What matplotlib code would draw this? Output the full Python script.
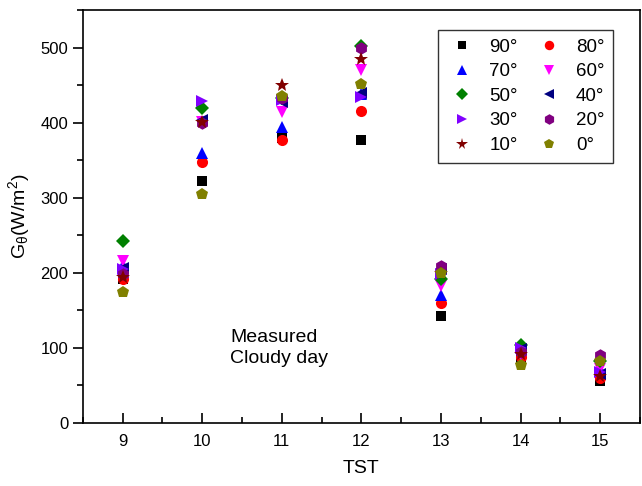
import matplotlib
matplotlib.use("Agg")
import matplotlib.pyplot as plt
from matplotlib.ticker import MultipleLocator

plt.rcParams['font.family'] = ['Liberation Sans', 'DejaVu Sans']
plt.rcParams['mathtext.default'] = 'regular'

# solar time (hours)
tst = [9, 10, 11, 12, 13, 14, 15]

# measured irradiance per tilt angle, W/m2
g90 = [192, 323, 379, 377, 143, 85, 56]
g80 = [192, 348, 377, 416, 160, 88, 60]
g70 = [210, 360, 394, 438, 170, 102, 70]
g60 = [216, 401, 414, 470, 183, 90, 72]
g50 = [243, 420, 433, 502, 192, 104, 82]
g40 = [207, 404, 427, 440, 205, 98, 65]
g30 = [205, 429, 430, 434, 198, 100, 68]
g20 = [198, 400, 433, 500, 209, 95, 90]
g10 = [194, 401, 450, 485, 200, 92, 62]
g0 = [175, 305, 436, 452, 200, 77, 83]

labels = ['90°', '80°', '70°', '60°', '50°', '40°', '30°', '20°', '10°', '0°']
series = [g90, g80, g70, g60, g50, g40, g30, g20, g10, g0]
markers = ['s', 'o', '^', 'v', 'D', '<', '>', 'h', '*', 'p']
colors = ['black', 'red', 'blue', 'magenta', '#008000', '#000080',
          '#8000ff', '#800080', '#800000', '#808000']
sizes = [7, 8, 9, 9, 7, 8, 8, 9, 10, 9]

fig = plt.figure(figsize=(6.42, 4.86), dpi=100)
ax = fig.add_axes([0.129, 0.130, 0.868, 0.849])

handles = []
for vals, lab, m, c, s in zip(series, labels, markers, colors, sizes):
    h, = ax.plot(tst, vals, linestyle='none', marker=m, color=c, markersize=s,
                 markeredgewidth=0, label=lab)
    handles.append(h)

ax.set_xlim(8.5, 15.5)
ax.set_ylim(0, 550)
ax.xaxis.set_major_locator(MultipleLocator(1))
ax.xaxis.set_minor_locator(MultipleLocator(0.5))
ax.yaxis.set_major_locator(MultipleLocator(100))
ax.yaxis.set_minor_locator(MultipleLocator(50))
ax.tick_params(axis='x', which='major', direction='in', length=7, width=1.2,
               labelsize=12, pad=8)
ax.tick_params(axis='x', which='minor', direction='in', length=4, width=1.2)
ax.tick_params(axis='y', which='major', direction='out', length=7, width=1.2,
               labelsize=12)
ax.tick_params(axis='y', which='minor', direction='out', length=4, width=1.2)
for sp in ax.spines.values():
    sp.set_linewidth(1.2)

ax.set_xlabel('TST', fontsize=14, labelpad=8)
ax.set_ylabel(r'G$_\theta$(W/m$^2$)', fontsize=14, labelpad=6)

ax.text(10.35, 100, 'Measured\nCloudy day', fontsize=14, linespacing=1.3,
        va='center', ha='left')

# legend fills row by row in the reference: reorder for column-major layout
order = [0, 2, 4, 6, 8, 1, 3, 5, 7, 9]
leg = ax.legend([handles[i] for i in order], [labels[i] for i in order],
                ncol=2, loc='upper right', bbox_to_anchor=(0.951, 0.952),
                borderaxespad=0, fontsize=13.5, frameon=True, fancybox=False,
                edgecolor='black', handletextpad=0.6, columnspacing=0.8,
                labelspacing=0.4, borderpad=0.45, handlelength=1.7,
                markerscale=0.85)
leg.get_frame().set_linewidth(1.0)

fig.savefig('out.png', dpi=100)
